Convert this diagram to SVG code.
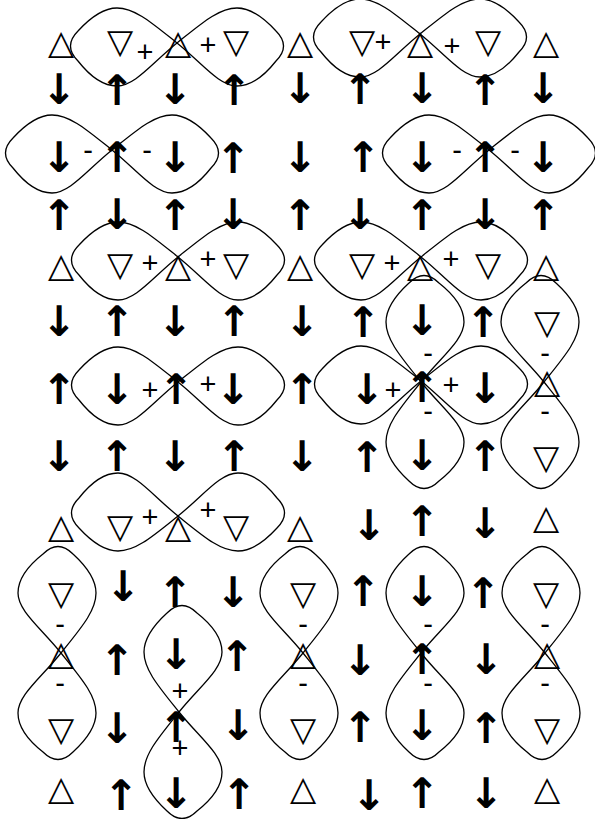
<svg xmlns="http://www.w3.org/2000/svg" width="595" height="819" viewBox="0 0 595 819">
<style>
.a{font-family:"DejaVu Sans",sans-serif;font-size:42px;font-weight:bold;text-anchor:middle;dominant-baseline:central;fill:#000}
.t{font-family:"DejaVu Sans",sans-serif;font-size:34px;font-weight:bold;text-anchor:middle;dominant-baseline:central;fill:#000}
.s{font-family:"Liberation Sans",sans-serif;font-size:29px;text-anchor:middle;dominant-baseline:central;fill:#000}
.lobe{fill:none;stroke:#000;stroke-width:1.3}
</style>
<defs>
<path id="lobe" d="M0,0 C-25,-20 -42,-35 -60,-35 C-75,-35 -88,-24 -99,-12 Q-114,3 -99,18 C-88,32 -75,43 -60,43 C-42,43 -25,20 0,0 Z"/>
<g id="fig8" class="lobe"><use href="#lobe"/><use href="#lobe" transform="scale(-1,1)"/></g>
</defs>
<rect width="595" height="819" fill="#fff"/>
<g id="connectors">
<use id="h1" href="#fig8" transform="translate(177,43)"/>
<use id="h2" href="#fig8" transform="translate(420,34)"/>
<use id="h3" href="#fig8" transform="translate(112,150)"/>
<use id="h4" href="#fig8" transform="translate(489,150)"/>
<use id="h5" href="#fig8" transform="translate(178,257)"/>
<use id="h6" href="#fig8" transform="translate(421,257)"/>
<use id="h7" href="#fig8" transform="translate(178,382)"/>
<use id="h8" href="#fig8" transform="translate(421,381)"/>
<use id="h9" href="#fig8" transform="translate(178,516) scale(1,-1)"/>
<use id="v1" href="#fig8" transform="translate(421,382) rotate(-90)"/>
<use id="v2" href="#fig8" transform="translate(544,382) rotate(-90) scale(1,-1)"/>
<use id="v3" href="#fig8" transform="translate(61,653) rotate(-90) scale(1,-1)"/>
<use id="v4" href="#fig8" transform="translate(303,653) rotate(-90) scale(1,-1)"/>
<use id="v5" href="#fig8" transform="translate(421,653) rotate(-90)"/>
<use id="v6" href="#fig8" transform="translate(545,653) rotate(-90) scale(1,-1)"/>
<use id="v7" href="#fig8" transform="translate(179,712) rotate(-90)"/>
</g>
<g id="row1">
<g id="n1_1"><text class="t" x="61" y="41.5">△</text></g>
<g id="n1_2"><text class="t" x="120" y="40.5">▽</text></g>
<g id="n1_3"><text class="t" x="178" y="41.5">△</text></g>
<g id="n1_4"><text class="t" x="236" y="40.5">▽</text></g>
<g id="n1_5"><text class="t" x="300" y="41.5">△</text></g>
<g id="n1_6"><text class="t" x="362" y="40.5">▽</text></g>
<g id="n1_7"><text class="t" x="420" y="41.5">△</text></g>
<g id="n1_8"><text class="t" x="488" y="40.5">▽</text></g>
<g id="n1_9"><text class="t" x="546" y="41.5">△</text></g>
<text class="s" x="145" y="52">+</text><text class="s" x="208" y="45">+</text>
<text class="s" x="383" y="42">+</text><text class="s" x="452" y="46">+</text>
</g>
<g id="row2">
<g id="n2_1"><text class="a" x="59" y="89">↓</text></g>
<g id="n2_2"><text class="a" x="117" y="90">↑</text></g>
<g id="n2_3"><text class="a" x="175" y="89">↓</text></g>
<g id="n2_4"><text class="a" x="234" y="90">↑</text></g>
<g id="n2_5"><text class="a" x="300" y="88">↓</text></g>
<g id="n2_6"><text class="a" x="360" y="89">↑</text></g>
<g id="n2_7"><text class="a" x="422" y="88">↓</text></g>
<g id="n2_8"><text class="a" x="485" y="90">↑</text></g>
<g id="n2_9"><text class="a" x="543" y="88">↓</text></g>
</g>
<g id="row3">
<g id="n3_1"><text class="a" x="59" y="157">↓</text></g>
<g id="n3_2"><text class="a" x="117" y="157">↑</text></g>
<g id="n3_3"><text class="a" x="175" y="157">↓</text></g>
<g id="n3_4"><text class="a" x="233" y="158">↑</text></g>
<g id="n3_5"><text class="a" x="300" y="157">↓</text></g>
<g id="n3_6"><text class="a" x="363" y="157">↑</text></g>
<g id="n3_7"><text class="a" x="422" y="157">↓</text></g>
<g id="n3_8"><text class="a" x="485" y="157">↑</text></g>
<g id="n3_9"><text class="a" x="543" y="157">↓</text></g>
<text class="s" x="88" y="150">-</text><text class="s" x="147" y="150">-</text>
<text class="s" x="457" y="150">-</text><text class="s" x="515" y="150">-</text>
</g>
<g id="row4">
<g id="n4_1"><text class="a" x="59" y="215">↑</text></g>
<g id="n4_2"><text class="a" x="117" y="214">↓</text></g>
<g id="n4_3"><text class="a" x="175" y="215">↑</text></g>
<g id="n4_4"><text class="a" x="233" y="214">↓</text></g>
<g id="n4_5"><text class="a" x="300" y="215">↑</text></g>
<g id="n4_6"><text class="a" x="360" y="214">↓</text></g>
<g id="n4_7"><text class="a" x="422" y="215">↑</text></g>
<g id="n4_8"><text class="a" x="485" y="214">↓</text></g>
<g id="n4_9"><text class="a" x="543" y="215">↑</text></g>
</g>
<g id="row5">
<g id="n5_1"><text class="t" x="61" y="264.5">△</text></g>
<g id="n5_2"><text class="t" x="120" y="264">▽</text></g>
<g id="n5_3"><text class="t" x="178" y="264.5">△</text></g>
<g id="n5_4"><text class="t" x="236" y="264">▽</text></g>
<g id="n5_5"><text class="t" x="300" y="264.5">△</text></g>
<g id="n5_6"><text class="t" x="362" y="264">▽</text></g>
<g id="n5_7"><text class="t" x="420" y="264.5">△</text></g>
<g id="n5_8"><text class="t" x="488" y="264">▽</text></g>
<g id="n5_9"><text class="t" x="546" y="264.5">△</text></g>
<text class="s" x="150" y="263">+</text><text class="s" x="208" y="259">+</text>
<text class="s" x="392" y="263">+</text><text class="s" x="451" y="259">+</text>
</g>
<g id="row6">
<g id="n6_1"><text class="a" x="59" y="321">↓</text></g>
<g id="n6_2"><text class="a" x="117" y="321">↑</text></g>
<g id="n6_3"><text class="a" x="175" y="321">↓</text></g>
<g id="n6_4"><text class="a" x="234" y="321">↑</text></g>
<g id="n6_5"><text class="a" x="302" y="321">↓</text></g>
<g id="n6_6"><text class="a" x="363" y="322">↑</text></g>
<g id="n6_7"><text class="a" x="422" y="320">↓</text></g>
<g id="n6_8"><text class="a" x="483" y="322">↑</text></g>
<g id="n6_9"><text class="t" x="547" y="322">▽</text></g>
<text class="s" x="428" y="353">-</text><text class="s" x="545" y="353">-</text>
</g>
<g id="row7">
<g id="n7_1"><text class="a" x="59" y="389">↑</text></g>
<g id="n7_2"><text class="a" x="117" y="389">↓</text></g>
<g id="n7_3"><text class="a" x="176" y="389">↑</text></g>
<g id="n7_4"><text class="a" x="233" y="389">↓</text></g>
<g id="n7_5"><text class="a" x="302" y="389">↑</text></g>
<g id="n7_6"><text class="a" x="367" y="389">↓</text></g>
<g id="n7_7"><text class="a" x="422" y="387">↑</text></g>
<g id="n7_8"><text class="a" x="485" y="388">↓</text></g>
<g id="n7_9"><text class="t" x="547" y="381">△</text></g>
<text class="s" x="150" y="390">+</text><text class="s" x="208" y="384">+</text>
<text class="s" x="393" y="390">+</text><text class="s" x="451" y="385">+</text>
<text class="s" x="428" y="411">-</text><text class="s" x="545" y="411">-</text>
</g>
<g id="row8">
<g id="n8_1"><text class="a" x="59" y="456">↓</text></g>
<g id="n8_2"><text class="a" x="117" y="456">↑</text></g>
<g id="n8_3"><text class="a" x="175" y="456">↓</text></g>
<g id="n8_4"><text class="a" x="234" y="456">↑</text></g>
<g id="n8_5"><text class="a" x="302" y="456">↓</text></g>
<g id="n8_6"><text class="a" x="367" y="457">↑</text></g>
<g id="n8_7"><text class="a" x="422" y="455">↓</text></g>
<g id="n8_8"><text class="a" x="485" y="456">↑</text></g>
<g id="n8_9"><text class="t" x="546" y="457">▽</text></g>
</g>
<g id="row9">
<g id="n9_1"><text class="t" x="61" y="526">△</text></g>
<g id="n9_2"><text class="t" x="120" y="525.5">▽</text></g>
<g id="n9_3"><text class="t" x="178" y="526">△</text></g>
<g id="n9_4"><text class="t" x="236" y="525.5">▽</text></g>
<g id="n9_5"><text class="t" x="300" y="526">△</text></g>
<g id="n9_6"><text class="a" x="369" y="525">↓</text></g>
<g id="n9_7"><text class="a" x="422" y="521.5">↑</text></g>
<g id="n9_8"><text class="a" x="485" y="523.5">↓</text></g>
<g id="n9_9"><text class="t" x="546" y="516.5">△</text></g>
<text class="s" x="150" y="517">+</text><text class="s" x="208" y="510">+</text>
</g>
<g id="row10">
<g id="n10_1"><text class="t" x="61" y="593">▽</text></g>
<g id="n10_2"><text class="a" x="123" y="586">↓</text></g>
<g id="n10_3"><text class="a" x="175" y="592.5">↑</text></g>
<g id="n10_4"><text class="a" x="233" y="592.5">↓</text></g>
<g id="n10_5"><text class="t" x="303" y="593">▽</text></g>
<g id="n10_6"><text class="a" x="363" y="591.5">↑</text></g>
<g id="n10_7"><text class="a" x="422" y="591">↓</text></g>
<g id="n10_8"><text class="a" x="483" y="593">↑</text></g>
<g id="n10_9"><text class="t" x="546" y="593">▽</text></g>
</g>
<g id="row11">
<g id="n11_1"><text class="t" x="61" y="652.5">△</text></g>
<g id="n11_2"><text class="a" x="117" y="660">↑</text></g>
<g id="n11_3"><text class="a" x="176" y="654">↓</text></g>
<g id="n11_4"><text class="a" x="237" y="656.5">↑</text></g>
<g id="n11_5"><text class="t" x="303" y="652.5">△</text></g>
<g id="n11_6"><text class="a" x="360" y="660">↓</text></g>
<g id="n11_7"><text class="a" x="422" y="659">↑</text></g>
<g id="n11_8"><text class="a" x="486" y="659.5">↓</text></g>
<g id="n11_9"><text class="t" x="547" y="652.5">△</text></g>
<text class="s" x="60" y="624">-</text><text class="s" x="60" y="683">-</text>
<text class="s" x="180" y="691">+</text>
<text class="s" x="303" y="624">-</text><text class="s" x="303" y="683">-</text>
<text class="s" x="428" y="624">-</text><text class="s" x="428" y="683">-</text>
<text class="s" x="545" y="624">-</text><text class="s" x="545" y="683">-</text>
</g>
<g id="row12">
<g id="n12_1"><text class="t" x="61" y="728.5">▽</text></g>
<g id="n12_2"><text class="a" x="117" y="728">↓</text></g>
<g id="n12_3"><text class="a" x="176" y="727.5">↑</text></g>
<g id="n12_4"><text class="a" x="238" y="725">↓</text></g>
<g id="n12_5"><text class="t" x="303" y="728.5">▽</text></g>
<g id="n12_6"><text class="a" x="360" y="727.5">↑</text></g>
<g id="n12_7"><text class="a" x="422" y="725.5">↓</text></g>
<g id="n12_8"><text class="a" x="486" y="728">↑</text></g>
<g id="n12_9"><text class="t" x="547" y="728.5">▽</text></g>
<text class="s" x="180" y="748">+</text>
</g>
<g id="row13">
<g id="n13_1"><text class="t" x="61" y="788">△</text></g>
<g id="n13_2"><text class="a" x="121" y="795.5">↑</text></g>
<g id="n13_3"><text class="a" x="176" y="793.5">↓</text></g>
<g id="n13_4"><text class="a" x="239" y="794.5">↑</text></g>
<g id="n13_5"><text class="t" x="303" y="788">△</text></g>
<g id="n13_6"><text class="a" x="369" y="795">↓</text></g>
<g id="n13_7"><text class="a" x="422" y="793.5">↑</text></g>
<g id="n13_8"><text class="a" x="486" y="793">↓</text></g>
<g id="n13_9"><text class="t" x="547" y="788">△</text></g>
</g>
</svg>
